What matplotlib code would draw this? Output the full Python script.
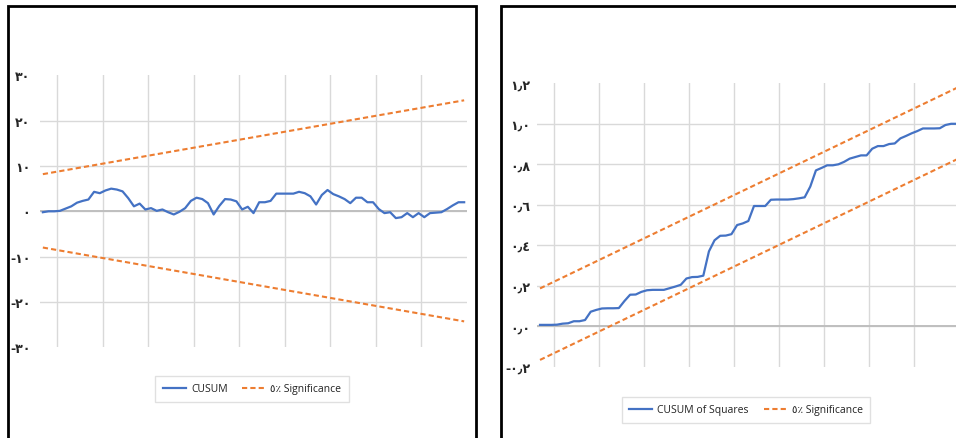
import matplotlib
matplotlib.use("Agg")
import matplotlib.pyplot as plt
from matplotlib.patches import Rectangle
from matplotlib.lines import Line2D

# CUSUM test (left panel)
cusum = [-0.2, 0.0, 0.0, 0.1, 0.6, 1.1, 1.9, 2.3, 2.6, 4.3,
         4.0, 4.6, 5.0, 4.8, 4.4, 2.9, 1.1, 1.7, 0.4, 0.7,
         0.1, 0.4, -0.2, -0.7, -0.1, 0.7, 2.3, 3.0, 2.7, 1.8,
         -0.7, 1.2, 2.7, 2.6, 2.2, 0.4, 1.0, -0.4, 2.0, 2.0,
         2.3, 3.9, 3.9, 3.9, 3.9, 4.3, 4.0, 3.3, 1.5, 3.6,
         4.7, 3.8, 3.3, 2.7, 1.8, 3.0, 3.0, 2.0, 2.0, 0.5,
         -0.4, -0.2, -1.5, -1.3, -0.4, -1.3, -0.4, -1.3, -0.4, -0.3,
         -0.2, 0.5, 1.3, 2.0, 2.0]
cusum_upper = [8.2, 24.5]   # first and last observation
cusum_lower = [-8.0, -24.3]

# CUSUM of squares (right panel)
cusumsq = [0.007, 0.007, 0.007, 0.008, 0.013, 0.015, 0.025, 0.025, 0.031, 0.072,
           0.081, 0.088, 0.089, 0.089, 0.090, 0.125, 0.156, 0.157, 0.170, 0.178,
           0.180, 0.180, 0.180, 0.188, 0.196, 0.205, 0.236, 0.243, 0.244, 0.250,
           0.370, 0.425, 0.447, 0.448, 0.455, 0.500, 0.508, 0.520, 0.594, 0.594,
           0.594, 0.625, 0.626, 0.626, 0.626, 0.628, 0.632, 0.637, 0.690, 0.770,
           0.782, 0.795, 0.795, 0.800, 0.812, 0.828, 0.836, 0.844, 0.844, 0.877,
           0.890, 0.890, 0.900, 0.903, 0.928, 0.940, 0.953, 0.964, 0.977, 0.977,
           0.977, 0.978, 0.994, 1.000, 1.000]
sq_upper = [0.187, 1.177]
sq_lower = [-0.166, 0.824]

left_ticks = [-30, -20, -10, 0, 10, 20, 30]
left_labels = ['-٣٠', '-٢٠', '-١٠', '٠', '١٠', '٢٠', '٣٠']
right_ticks = [-0.2, 0.0, 0.2, 0.4, 0.6, 0.8, 1.0, 1.2]
right_labels = ['-٠٫٢', '٠٫٠', '٠٫٢', '٠٫٤', '٠٫٦', '٠٫٨', '١٫٠', '١٫٢']

blue = '#4472C4'
orange = '#ED7D31'
grid_c = '#D9D9D9'
dash = (0, (2.5, 1.5))
legend_font = ['Open Sans', 'DejaVu Sans']

W, H = 956, 439
fig = plt.figure(figsize=(W / 100, H / 100), dpi=100)


def px_axes(x0, x1, ytop, ybot):
    return fig.add_axes([x0 / W, 1 - ybot / H, (x1 - x0) / W, (ybot - ytop) / H])


def style(ax, yt, yl, ylim, pad):
    n = len(cusum)
    ax.set_xlim(-0.5, n - 0.5)
    ax.set_ylim(*ylim)
    ax.set_xticks([2.5 + 8 * k for k in range(9)])
    ax.set_xticklabels([])
    ax.set_yticks(yt)
    ax.set_yticklabels(yl, fontsize=9, color='#262626', fontweight='bold')
    ax.tick_params(length=0, pad=pad)
    ax.grid(True, color=grid_c, lw=1)
    ygl = ax.get_ygridlines()
    ygl[0].set_visible(False)
    ygl[-1].set_visible(False)
    ax.axhline(0, color='#BFBFBF', lw=1.4, zorder=1)
    for s in ax.spines.values():
        s.set_visible(False)
    ax.set_axisbelow(True)


# left panel
ax1 = px_axes(40, 467, 76.4, 348.2)
x = list(range(len(cusum)))
ends = [x[0], x[-1]]
ax1.plot(x, cusum, color=blue, lw=1.6, zorder=3)
ax1.plot(ends, cusum_upper, color=orange, lw=1.5, ls=dash, zorder=3)
ax1.plot(ends, cusum_lower, color=orange, lw=1.5, ls=dash, zorder=3)
style(ax1, left_ticks, left_labels, (-30, 30), 7)

# right panel
ax2 = px_axes(537.2, 959.5, 84.3, 367.8)
x2 = list(range(len(cusumsq)))
ends2 = [x2[0], x2[-1]]
ax2.plot(x2, cusumsq, color=blue, lw=1.6, zorder=3)
ax2.plot(ends2, sq_upper, color=orange, lw=1.5, ls=dash, zorder=3)
ax2.plot(ends2, sq_lower, color=orange, lw=1.5, ls=dash, zorder=3)
style(ax2, right_ticks, right_labels, (-0.2, 1.2), 5)

# legends
def add_legend(label, cx, cy):
    h = [Line2D([], [], color=blue, lw=1.6),
         Line2D([], [], color=orange, lw=1.5, ls=dash)]
    leg = fig.legend(h, [label, '٥٪ Significance'], loc='center',
                     bbox_to_anchor=(cx / W, 1 - cy / H), ncol=2,
                     prop={'family': legend_font, 'size': 7.5},
                     frameon=True, fancybox=False, handlelength=2.2,
                     columnspacing=1.4, handletextpad=0.5, borderpad=0.7)
    leg.get_frame().set_edgecolor(grid_c)
    leg.get_frame().set_linewidth(1)
    for t in leg.get_texts():
        t.set_color('#222222')


add_legend('CUSUM', 252, 390)
add_legend('CUSUM of Squares', 746, 411)

# panel frames
for (x0, y0, x1, y1) in [(8, 7, 476, 445), (501, 7, 970, 445)]:
    fig.add_artist(Rectangle((x0 / W, 1 - y1 / H), (x1 - x0) / W, (y1 - y0) / H,
                             transform=fig.transFigure, fill=False,
                             edgecolor='black', lw=2, clip_on=False))

fig.savefig('out.png', dpi=100)
